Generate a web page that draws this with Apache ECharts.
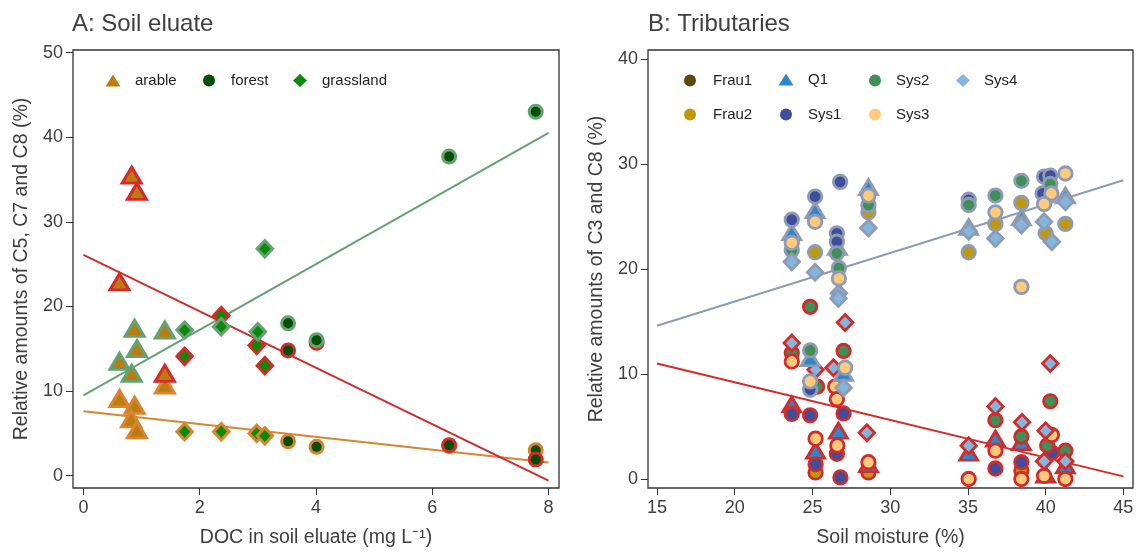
<!DOCTYPE html>
<html><head><meta charset="utf-8">
<script src="https://cdn.jsdelivr.net/npm/echarts@6/dist/echarts.min.js"></script>
<style>html,body{margin:0;padding:0;background:#fff}#c{width:1140px;height:553px}</style>
</head><body><div id="c"></div>
<script>
// ---------------- Panel A: Soil eluate ----------------
const aXTicks = [0, 2, 4, 6, 8];
const aYTicks = [0, 10, 20, 30, 40, 50];
const landUses = ['arable', 'forest', 'grassland'];
const arableC5 = [[0.62, 9.1], [0.88, 8.3], [0.82, 6.7], [0.92, 5.4], [1.40, 10.7]];
const arableC7 = [[0.88, 17.4], [1.40, 17.2], [0.92, 15.0], [0.62, 13.5], [0.83, 12.1]];
const arableC8 = [[0.83, 35.5], [0.92, 33.6], [0.62, 22.9], [1.40, 12.1]];
const forestC5 = [[3.52, 4.05], [4.01, 3.4], [6.29, 3.5], [7.78, 3.0]];
const forestC7 = [[3.52, 18.0], [4.01, 16.0], [6.29, 37.7], [7.78, 43.0]];
const forestC8 = [[3.52, 14.8], [4.01, 15.7], [6.29, 3.6], [7.78, 1.9]];
const grassC5 = [[1.74, 5.2], [2.37, 5.2], [2.98, 5.0], [3.12, 4.7]];
const grassC7 = [[1.74, 17.2], [2.37, 17.6], [3.00, 17.0], [3.12, 26.8]];
const grassC8 = [[1.74, 14.1], [2.37, 18.9], [2.98, 15.4], [3.12, 13.0]];
const fitA_C5 = [[0, 7.6], [8, 1.55]];
const fitA_C7 = [[0, 9.5], [8, 40.5]];
const fitA_C8 = [[0, 26.1], [8, -0.6]];
const labelsA = [[4.29, 24.95, 'C7: r² = 0.81'], [4.38, 12.9, 'C8: r² = 0.6'], [4.31, 5.85, 'C5: r² = 0.53']];

// ---------------- Panel B: Tributaries ----------------
const bXTicks = [15, 20, 25, 30, 35, 40, 45];
const bYTicks = [0, 10, 20, 30, 40];
const tribs = ['Frau1', 'Frau2', 'Q1', 'Sys1', 'Sys2', 'Sys3', 'Sys4'];
const frau1C3 = [];
const frau1C8 = [];
const frau2C3 = [[25.17, 21.6], [28.6, 25.4], [35.05, 21.6], [36.77, 24.3], [38.44, 26.3], [40.0, 23.4], [41.27, 24.3]];
const frau2C8 = [[25.2, 0.63], [28.6, 0.63], [38.44, 0.8]];
const q1C3 = [[23.67, 23.5], [25.17, 25.6], [26.6, 22.1], [28.6, 27.8], [35.05, 24.0], [38.44, 24.9], [41.27, 27.0], [24.85, 11.5], [27.0, 10.1]];
const q1C8 = [[23.67, 7.1], [26.67, 4.6], [25.2, 2.7], [28.6, 1.4], [35.05, 2.5], [36.77, 3.85], [38.44, 3.5], [40.0, 0.4], [41.27, 1.3]];
const sys1C3 = [[23.67, 24.7], [25.17, 26.9], [26.78, 28.3], [26.57, 23.4], [26.57, 22.6], [35.05, 26.6], [39.9, 28.8], [40.3, 28.9], [39.8, 27.2], [24.85, 8.5]];
const sys1C8 = [[23.67, 6.2], [24.85, 6.07], [27.0, 6.25], [26.57, 2.4], [25.2, 1.4], [26.8, 0.15], [36.77, 1.0], [38.44, 1.6], [40.4, 2.5]];
const sys2C3 = [[23.67, 21.8], [26.57, 21.5], [26.7, 20.1], [28.6, 26.1], [35.05, 26.1], [36.77, 27.0], [38.44, 28.4], [40.3, 28.1], [24.85, 12.25]];
const sys2C8 = [[24.85, 16.4], [23.67, 12.0], [27.0, 12.2], [25.3, 8.8], [36.77, 5.6], [38.44, 4.05], [40.3, 7.4], [40.1, 3.2], [41.27, 2.7]];
const sys3C3 = [[23.67, 22.5], [25.17, 24.5], [26.7, 19.1], [28.6, 27.0], [36.77, 25.4], [38.44, 18.3], [40.37, 27.2], [39.9, 26.2], [41.27, 29.1], [24.85, 9.3], [27.1, 10.6]];
const sys3C8 = [[23.67, 11.2], [26.46, 8.8], [26.57, 7.6], [25.2, 3.85], [26.6, 3.2], [28.6, 1.6], [35.05, 0.0], [36.77, 2.7], [38.44, 0.0], [40.4, 4.2], [39.9, 0.3], [41.27, 0.0]];
const sys4C3 = [[23.67, 20.7], [25.17, 19.7], [26.7, 17.7], [26.67, 17.2], [28.6, 23.9], [35.05, 23.6], [36.77, 22.9], [38.44, 24.2], [39.9, 24.5], [40.4, 22.6], [41.27, 26.4], [27.0, 8.7]];
const sys4C8 = [[27.1, 14.9], [23.67, 12.95], [25.2, 10.4], [26.35, 10.6], [28.5, 4.4], [35.05, 3.16], [36.77, 6.9], [38.48, 5.4], [40.3, 11.0], [40.0, 4.6], [39.9, 1.7], [41.27, 1.7]];
const fitB_C3 = [[15, 14.6], [45, 28.45]];
const fitB_C8 = [[15, 11.0], [45, 0.25]];
const labelsB = [[29.49, 18.94, 'C3: r² = 0.33'], [29.49, 7.91, 'C8: r² = 0.33']];

// ---------------- styles ----------------
const FONT = '"Liberation Sans", Arial, Helvetica, sans-serif';
const TXT = '#404040';
const AX = '#333333';
const edge = { C3: '#8E9BB7', C5: '#D9842E', C7: '#64A274', C8: '#D42A2A' };
const fillA = { arable: '#BC7C0E', forest: '#014F01', grassland: '#0A8A0A' };
const symA = { arable: 'triangle', forest: 'circle', grassland: 'diamond' };
const sizeA = { triangle: [19, 16], circle: 13, diamond: [15.5, 16.5] };
const fillB = { Frau1: '#5B4A0C', Frau2: '#BE9A0A', Q1: '#2E87C8', Sys1: '#3E4E9C', Sys2: '#3F8F57', Sys3: '#FFCB7B', Sys4: '#83B6DC' };
const symB = { Frau1: 'circle', Frau2: 'circle', Q1: 'triangle', Sys1: 'circle', Sys2: 'circle', Sys3: 'circle', Sys4: 'diamond' };
const sizeB = { triangle: [18, 15], circle: 13.5, diamond: [15.5, 16] };
const legendIconSize = { triangle: [15, 12], circle: [12, 12], diamond: [14, 13] };

const dataA = {
  arable: { C5: arableC5, C7: arableC7, C8: arableC8 },
  forest: { C5: forestC5, C7: forestC7, C8: forestC8 },
  grassland: { C5: grassC5, C7: grassC7, C8: grassC8 }
};
const dataB = {
  Frau1: { C3: frau1C3, C8: frau1C8 }, Frau2: { C3: frau2C3, C8: frau2C8 },
  Q1: { C3: q1C3, C8: q1C8 }, Sys1: { C3: sys1C3, C8: sys1C8 },
  Sys2: { C3: sys2C3, C8: sys2C8 }, Sys3: { C3: sys3C3, C8: sys3C8 },
  Sys4: { C3: sys4C3, C8: sys4C8 }
};

const series = [];
function fitLine(idx, data, color) {
  series.push({ type: 'line', xAxisIndex: idx, yAxisIndex: idx, data: data, symbol: 'none',
    lineStyle: { color: color, width: 2 }, z: 1, silent: true });
}
function labelSeries(idx, labels, colors) {
  series.push({ type: 'scatter', xAxisIndex: idx, yAxisIndex: idx, symbolSize: 1, z: 5, silent: true,
    itemStyle: { opacity: 0 },
    data: labels.map((l, i) => ({ value: [l[0], l[1]], name: l[2],
      label: { show: true, position: 'right', distance: 0, formatter: l[2], color: colors[i],
        fontSize: 14, fontFamily: FONT } })) });
}
fitLine(0, fitA_C5, edge.C5);
fitLine(0, fitA_C7, edge.C7);
fitLine(0, fitA_C8, edge.C8);
['C5', 'C8', 'C7'].forEach(comp => {
  landUses.forEach(lu => {
    const s = symA[lu];
    series.push({ type: 'scatter', name: lu, xAxisIndex: 0, yAxisIndex: 0, z: 2,
      symbol: s, symbolSize: sizeA[s], data: dataA[lu][comp],
      itemStyle: { color: fillA[lu], borderColor: edge[comp], borderWidth: 3, opacity: 1 } });
  });
});
labelSeries(0, labelsA, [edge.C7, edge.C8, '#D07A20']);

fitLine(1, fitB_C3, edge.C3);
fitLine(1, fitB_C8, edge.C8);
['C8', 'C3'].forEach(comp => {
  tribs.forEach(t => {
    const s = symB[t];
    series.push({ type: 'scatter', name: t, xAxisIndex: 1, yAxisIndex: 1, z: 2,
      symbol: s, symbolSize: sizeB[s], data: dataB[t][comp],
      itemStyle: { color: fillB[t], borderColor: edge[comp], borderWidth: 2.8, opacity: 1 } });
  });
});
labelSeries(1, labelsB, [edge.C3, edge.C8]);

// legends, one component per entry so each sits where the original does
const legends = [];
function legendItem(name, icon, color, cx, cy, textOffset) {
  const sz = legendIconSize[icon];
  legends.push({ data: [{ name: name, icon: icon, itemStyle: { color: color, borderWidth: 0 } }],
    left: cx - sz[0] / 2, top: cy - 9, padding: 0, itemWidth: sz[0], itemHeight: sz[1],
    itemStyle: { borderWidth: 0 }, selectedMode: false,
    textStyle: { fontSize: 15, color: '#222', fontFamily: FONT,
      padding: [0, 0, 0, textOffset - sz[0] / 2 - 5] } });
}
legendItem('arable', 'triangle', fillA.arable, 113, 82, 22);
legendItem('forest', 'circle', fillA.forest, 209, 82, 22);
legendItem('grassland', 'diamond', fillA.grassland, 300, 82, 22);
legendItem('Frau1', 'circle', fillB.Frau1, 690, 82, 23);
legendItem('Q1', 'triangle', fillB.Q1, 786, 81, 22);
legendItem('Sys2', 'circle', fillB.Sys2, 875, 82, 21);
legendItem('Sys4', 'diamond', fillB.Sys4, 963, 82, 21);
legendItem('Frau2', 'circle', fillB.Frau2, 690, 116, 23);
legendItem('Sys1', 'circle', fillB.Sys1, 786, 116, 22);
legendItem('Sys3', 'circle', fillB.Sys3, 875, 116, 21);

function axis(idx, min, max, ticks, name, isY) {
  return {
    gridIndex: idx, type: 'value', min: min, max: max,
    axisLine: { show: false, onZero: false }, splitLine: { show: false },
    axisTick: { show: true, customValues: ticks, length: 7, inside: false, lineStyle: { color: AX, width: 1 } },
    axisLabel: { show: true, customValues: ticks, fontSize: 18, color: TXT, fontFamily: FONT, margin: isY ? 10 : 11 },
    name: name, nameLocation: 'middle', nameGap: isY ? 41 : 40,
    nameTextStyle: { fontSize: 19.5, color: TXT, fontFamily: FONT }
  };
}

const option = {
  animation: false,
  backgroundColor: '#ffffff',
  textStyle: { fontFamily: FONT },
  title: [
    { text: 'A: Soil eluate', left: 72, top: 12, padding: 0, textStyle: { fontSize: 24, fontWeight: 'normal', color: TXT, fontFamily: FONT } },
    { text: 'B: Tributaries', left: 648, top: 12, padding: 0, textStyle: { fontSize: 24, fontWeight: 'normal', color: TXT, fontFamily: FONT } }
  ],
  legend: legends,
  grid: [
    { left: 73, top: 50, width: 486, height: 439, show: true, borderColor: AX, borderWidth: 1.3, backgroundColor: 'transparent' },
    { left: 648, top: 50, width: 485, height: 439, show: true, borderColor: AX, borderWidth: 1.3, backgroundColor: 'transparent' }
  ],
  xAxis: [
    axis(0, -0.18, 8.18, aXTicks, 'DOC in soil eluate (mg L⁻¹)', false),
    axis(1, 14.42, 45.62, bXTicks, 'Soil moisture (%)', false)
  ],
  yAxis: [
    axis(0, -1.46, 50.3, aYTicks, 'Relative amounts of C5, C7 and C8 (%)', true),
    axis(1, -0.855, 40.86, bYTicks, 'Relative amounts of C3 and C8 (%)', true)
  ],
  series: series
};

const chart = echarts.init(document.getElementById('c'), null, { renderer: 'canvas' });
chart.setOption(option);
</script></body></html>
